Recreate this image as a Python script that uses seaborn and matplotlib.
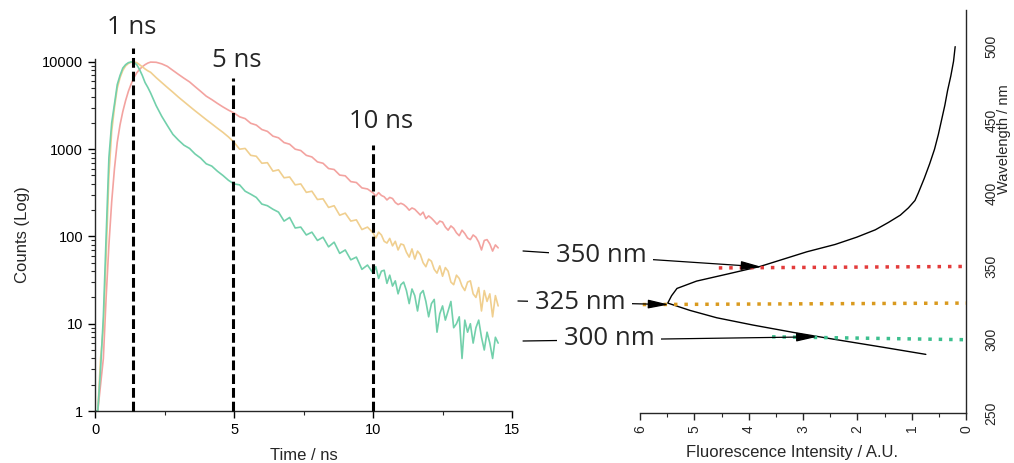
import matplotlib
matplotlib.use("Agg")
import matplotlib.pyplot as plt
import matplotlib.ticker as mticker
import pandas as pd
import seaborn as sns


# decay traces (counts vs time)
TIME_RISE = [0.0, 0.1, 0.2, 0.3, 0.4, 0.5, 0.6, 0.7, 0.8, 0.9,
             1.0, 1.1, 1.2, 1.3, 1.4, 1.5, 1.6, 1.7, 1.8, 1.9]
TIME_MID = [2.0, 2.2, 2.4, 2.6, 2.8, 3.0, 3.2, 3.4, 3.6, 3.8,
            4.0, 4.2, 4.4, 4.6, 4.8, 5.0, 5.2, 5.4, 5.6, 5.8,
            6.0, 6.2, 6.4, 6.6, 6.8, 7.0, 7.2, 7.4, 7.6, 7.8,
            8.0, 8.2, 8.4, 8.6, 8.8, 9.0, 9.2, 9.4, 9.6, 9.8]
TIME_TAIL = [10.0, 10.1, 10.2, 10.3, 10.4, 10.5, 10.6, 10.7, 10.8, 10.9,
             11.0, 11.1, 11.2, 11.3, 11.4, 11.5, 11.6, 11.7, 11.8, 11.9,
             12.0, 12.1, 12.2, 12.3, 12.4, 12.5, 12.6, 12.7, 12.8, 12.9,
             13.0, 13.1, 13.2, 13.3, 13.4, 13.5, 13.6, 13.7, 13.8, 13.9,
             14.0, 14.1, 14.2, 14.3, 14.4, 14.5]

RED_RISE = [1, 1, 2, 4, 20, 80, 250, 600, 1200, 1900,
            2700, 3600, 4600, 5600, 6600, 7500, 8200, 8800, 9300, 9700]
RED_MID = [9950, 9900, 9500, 8900, 8000, 7200, 6500, 5900, 5200, 4600,
           4050, 3700, 3350, 3050, 2800, 2600, 2350, 2240, 1980, 1890,
           1680, 1600, 1410, 1350, 1190, 1140, 1000, 965, 850, 815,
           715, 690, 600, 585, 505, 495, 425, 415, 360, 350]
RED_TAIL = [316, 290, 318, 295, 285, 262, 280, 272, 245, 232,
            240, 232, 218, 200, 212, 205, 190, 176, 190, 160,
            172, 162, 150, 138, 150, 146, 128, 118, 132, 124,
            110, 102, 118, 108, 96, 92, 104, 98, 86, 70,
            90, 92, 82, 68, 80, 74]

ORANGE_RISE = [1, 1, 4, 9, 60, 500, 1600, 3000, 5000, 6600,
               8000, 9000, 9600, 9900, 10000, 9800, 9300, 8800, 8300, 7900]
ORANGE_MID = [7600, 6600, 5800, 5100, 4500, 3950, 3500, 3100, 2750, 2450,
              2180, 1950, 1740, 1560, 1380, 1200, 1000, 1020, 850, 830,
              690, 700, 560, 580, 470, 480, 390, 400, 320, 330,
              265, 270, 215, 225, 175, 185, 150, 155, 120, 128]
ORANGE_TAIL = [110, 96, 112, 104, 88, 84, 95, 78, 88, 70,
               82, 80, 66, 58, 72, 55, 68, 62, 50, 45,
               55, 52, 42, 38, 46, 35, 44, 40, 30, 28,
               36, 33, 27, 24, 30, 31, 22, 20, 26, 14,
               24, 18, 22, 12, 21, 16]

GREEN_RISE = [1, 1, 3, 12, 100, 800, 2000, 3300, 5500, 7000,
              8500, 9300, 9800, 10000, 9900, 9300, 8200, 7000, 5800, 5100]
GREEN_MID = [4400, 3150, 2380, 1870, 1480, 1270, 1110, 1020, 880, 790,
             680, 640, 560, 500, 440, 400, 390, 330, 305, 280,
             235, 225, 205, 190, 150, 165, 125, 128, 104, 112,
             90, 98, 76, 86, 64, 70, 54, 58, 42, 47]
GREEN_TAIL = [38, 45, 33, 40, 41, 29, 36, 27, 31, 22,
              28, 30, 24, 17, 25, 21, 14, 22, 24, 18,
              12, 17, 19, 8, 13, 16, 11, 14, 18, 9,
              10, 12, 4, 11, 8, 10, 6, 9, 11, 7,
              5, 8, 6, 4, 7, 6]

SAMPLES = ["350 nm", "325 nm", "300 nm"]
DECAY_COLORS = ["#f3a3a0", "#f0cf8f", "#72d0ab"]

# emission spectrum (intensity vs wavelength)
WAVELENGTH = [290, 295, 300, 305, 310, 315, 320, 325, 330, 335, 340, 345,
              350, 355, 360, 365, 370, 375, 380, 385, 390, 395, 400,
              410, 420, 430, 440, 450, 460, 470, 480, 490, 500]
INTENSITY = [0.74, 1.55, 2.38, 3.18, 3.92, 4.59, 5.08, 5.49, 5.42, 5.32, 4.96, 4.37,
             3.79, 3.36, 2.93, 2.41, 2.01, 1.67, 1.43, 1.21, 1.06, 0.94, 0.88,
             0.77, 0.67, 0.58, 0.51, 0.45, 0.39, 0.34, 0.28, 0.23, 0.2]

# excitation markers: (start intensity, start nm) -> (0, nm)
EXC_START = [(4.55, 349), (5.95, 324), (3.57, 302)]
EXC_END = [350, 325, 300]
EXC_COLORS = ["#e33b3b", "#d99a1e", "#3cbf8e"]
ARROW_TIPS = [(3.76, 349.7), (5.47, 324.0), (2.74, 302.0)]

# time markers
MARK_TIMES = [1.37, 4.98, 10.0]
MARK_TOPS = [14500, 6560, 1120]
MARK_LABELS = ["1 ns", "5 ns", "10 ns"]
MARK_LABEL_POS = [(1.33, 24500), (5.1, 10500), (10.3, 2090)]


def build_decay() -> pd.DataFrame:
    times = TIME_RISE + TIME_MID + TIME_TAIL
    parts = []
    for name, counts in zip(SAMPLES, [RED_RISE + RED_MID + RED_TAIL,
                                      ORANGE_RISE + ORANGE_MID + ORANGE_TAIL,
                                      GREEN_RISE + GREEN_MID + GREEN_TAIL]):
        parts.append(pd.DataFrame({"time": times, "counts": counts, "sample": name}))
    return pd.concat(parts, ignore_index=True)


def main() -> None:
    sns.set_style("ticks")
    plt.rcParams["font.family"] = ["Liberation Sans", "DejaVu Sans"]
    plt.rcParams["axes.linewidth"] = 1.0

    fig = plt.figure(figsize=(10.14, 4.63), dpi=100)
    ax1 = fig.add_axes([0.0937, 0.1123, 0.4113, 0.7603])
    ax2 = fig.add_axes([0.6312, 0.108, 0.3215, 0.8704])

    # left: decay curves
    decay = build_decay()
    sns.lineplot(data=decay, x="time", y="counts", hue="sample",
                 palette=DECAY_COLORS, linewidth=1.2, legend=False, ax=ax1)
    ax1.set_yscale("log")
    ax1.set_ylim(1, 10800)
    ax1.set_xlim(0, 15)
    ax1.set_xticks([0, 5, 10, 15])
    ax1.xaxis.set_minor_locator(mticker.FixedLocator([2.5, 7.5, 12.5]))
    ax1.set_yticks([1, 10, 100, 1000, 10000])
    ax1.yaxis.set_major_formatter(mticker.FuncFormatter(lambda v, _: f"{v:.0f}"))
    ax1.tick_params(axis="both", which="major", length=5, width=1.0,
                    labelsize=10.5, colors="black")
    ax1.tick_params(axis="both", which="minor", length=3, width=0.8)
    ax1.set_xlabel("Time / ns", fontsize=12, labelpad=8)
    ax1.set_ylabel("Counts (Log)", fontsize=12, labelpad=9)
    sns.despine(ax=ax1)

    for t, top in zip(MARK_TIMES, MARK_TOPS):
        ax1.plot([t, t], [1, top], color="black", lw=2.2,
                 linestyle=(0, (3.2, 1.3)), clip_on=False, zorder=5)
    for label, (tx, ty) in zip(MARK_LABELS, MARK_LABEL_POS):
        ax1.text(tx, ty, label, ha="center", va="center", fontsize=18.5,
                 family=["Open Sans", "DejaVu Sans"], color="#262626", clip_on=False)

    # right: emission spectrum, intensity axis reversed
    sns.lineplot(x=INTENSITY, y=WAVELENGTH, orient="y", color="black",
                 linewidth=1.0, ax=ax2)
    for (x0, y0), y1, col in zip(EXC_START, EXC_END, EXC_COLORS):
        ax2.plot([x0, 0], [y0, y1], color=col, lw=2.5,
                 linestyle=(0, (1, 2)), zorder=3)
    ax2.set_xlim(6, 0)
    ax2.set_ylim(250, 525)
    ax2.set_xticks(range(0, 7))
    ax2.xaxis.set_minor_locator(mticker.MultipleLocator(0.5))
    ax2.set_yticks([250, 300, 350, 400, 450, 500])
    ax2.yaxis.set_minor_locator(mticker.MultipleLocator(25))
    ax2.yaxis.tick_right()
    ax2.yaxis.set_label_position("right")
    ax2.tick_params(axis="both", which="major", length=5, width=1.0,
                    labelsize=10, labelrotation=90)
    ax2.tick_params(axis="y", which="major", pad=8.3)
    ax2.tick_params(axis="both", which="minor", length=3, width=0.8)
    for lab in ax2.get_yticklabels():
        lab.set_va("center")
    ax2.set_xlabel("Fluorescence Intensity / A.U.", fontsize=12)
    ax2.set_ylabel("Wavelength / nm", fontsize=10.5)
    ax2.xaxis.set_label_coords(0.466, -0.08)
    ax2.yaxis.set_label_coords(1.096, 0.68)
    sns.despine(ax=ax2, left=True, right=False)

    # arrows from the decay panel to the spectrum
    tails = [(0.5158, 0.4579), (0.5108, 0.3499), (0.5158, 0.2635)]
    text_pos = [(0.5927, 0.4492), (0.572, 0.3477), (0.6006, 0.268)]
    for tip, tail, pos, label in zip(ARROW_TIPS, tails, text_pos, SAMPLES):
        ax2.annotate("", xy=tip, xycoords="data", xytext=tail,
                     textcoords="figure fraction", annotation_clip=False,
                     arrowprops=dict(arrowstyle="-|>,head_length=0.7,head_width=0.15",
                                     mutation_scale=18, color="black", lw=0.9,
                                     shrinkA=0, shrinkB=0))
        fig.text(pos[0], pos[1], label, ha="center", va="center", fontsize=18.5,
                 family=["Open Sans", "DejaVu Sans"], color="#262626",
                 bbox=dict(boxstyle="square,pad=0.25", fc="white", ec="none"))

    fig.savefig("out.png", dpi=100)
    plt.close(fig)


if __name__ == "__main__":
    main()
